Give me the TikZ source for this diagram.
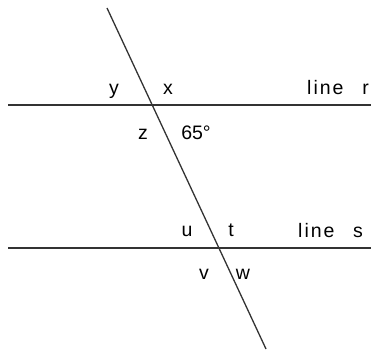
\documentclass[tikz,border=0pt]{standalone}
\usepackage{fontspec}
\setmainfont{Liberation Sans}
\begin{document}
\begin{tikzpicture}[x=1pt,y=-1pt,
  ln/.style={line width=1.3pt,draw=black!80},
  lbl/.style={anchor=base,inner sep=0pt,font=\fontsize{19.5}{22}\selectfont}]
\useasboundingbox (0,0) rectangle (371,350);
\coordinate (rL) at (8,105);
\coordinate (rR) at (371,105);
\coordinate (sL) at (8,248);
\coordinate (sR) at (371,248);
\coordinate (tT) at (107,8);
\coordinate (tB) at (266,349);
\draw[ln] (rL) -- (rR);
\draw[ln] (sL) -- (sR);
\draw[ln] (tT) -- (tB);
\node[lbl] (ly) at (114,94) {y};
\node[lbl] (lx) at (168,94) {x};
\node[lbl] (lz) at (143,139) {z};
\node[lbl] (l65) at (196,139) {65°};
\node[lbl] (lu) at (187,236) {u};
\node[lbl] (lt) at (231,236) {t};
\node[lbl] (lv) at (204,279) {v};
\node[lbl] (lw) at (243,279) {w};
\node[lbl,anchor=base west] (liner) at (307,95) {l\kern2pt i\kern2pt n\kern2pt e};
\node[lbl,anchor=base east] (r) at (369,95) {r};
\node[lbl,anchor=base west] (lines) at (298,237) {l\kern2pt i\kern2pt n\kern2pt e};
\node[lbl,anchor=base east] (s) at (363,237) {s};
\end{tikzpicture}
\end{document}
